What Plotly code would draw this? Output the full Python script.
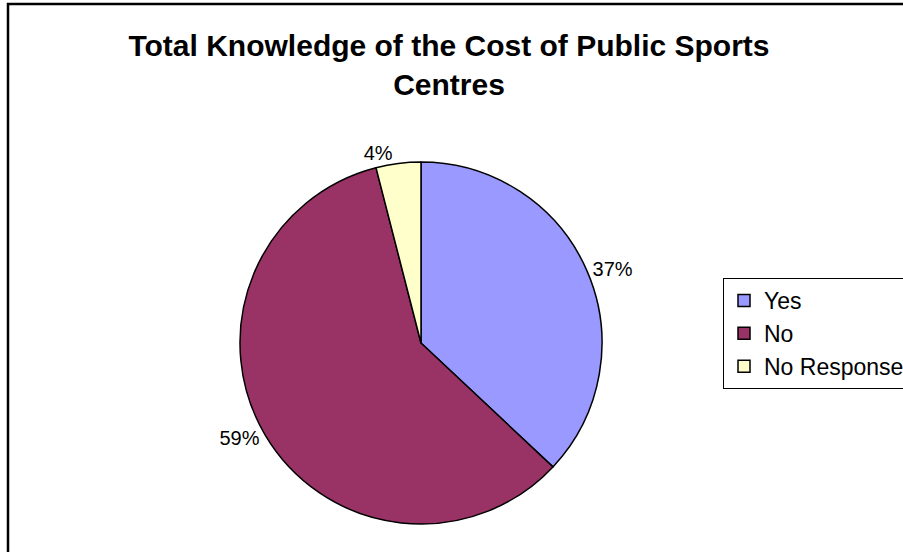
import plotly.graph_objects as go

# Datos del gráfico
labels = ['Yes', 'No', 'No Response']
values = [37, 59, 4]
colors = ['#9999FF', '#993366', '#FFFFCC']

W, H = 903, 552
FONT = 'Liberation Sans, Arial'

fig = go.Figure()
fig.add_trace(go.Pie(
    labels=labels,
    values=values,
    sort=False,
    direction='clockwise',
    rotation=0,
    marker=dict(colors=colors, line=dict(color='black', width=1.5)),
    textposition='outside',
    texttemplate='%{percent:.0%}',
    textfont=dict(family=FONT, size=20, color='black'),
    domain=dict(x=[240 / W, 602 / W], y=[1 - 524 / H, 1 - 162 / H]),
    hoverinfo='label+percent',
))

fig.update_layout(
    width=W, height=H,
    margin=dict(l=0, r=0, t=0, b=0, autoexpand=False),
    paper_bgcolor='white',
    plot_bgcolor='white',
    title=dict(
        text='<b>Total Knowledge of the Cost of Public Sports<br>Centres</b>',
        x=449 / W, xanchor='center',
        y=1 - 56 / H, yanchor='top',
        font=dict(family=FONT, size=30, color='black'),
    ),
    legend=dict(
        x=723 / W, xanchor='left',
        y=1 - 278 / H, yanchor='top',
        bordercolor='black', borderwidth=1,
        bgcolor='white',
        font=dict(family=FONT, size=23, color='black'),
        tracegroupgap=0,
        itemwidth=30,
    ),
    shapes=[dict(
        type='rect', xref='paper', yref='paper',
        x0=8 / W, x1=1.05, y0=-0.05, y1=1 - 4 / H,
        line=dict(color='black', width=2.5),
    )],
)

# quitar el margen por defecto del body
fig.write_html('out.html', config={'displayModeBar': False},
               post_script="document.body.style.margin='0';")
